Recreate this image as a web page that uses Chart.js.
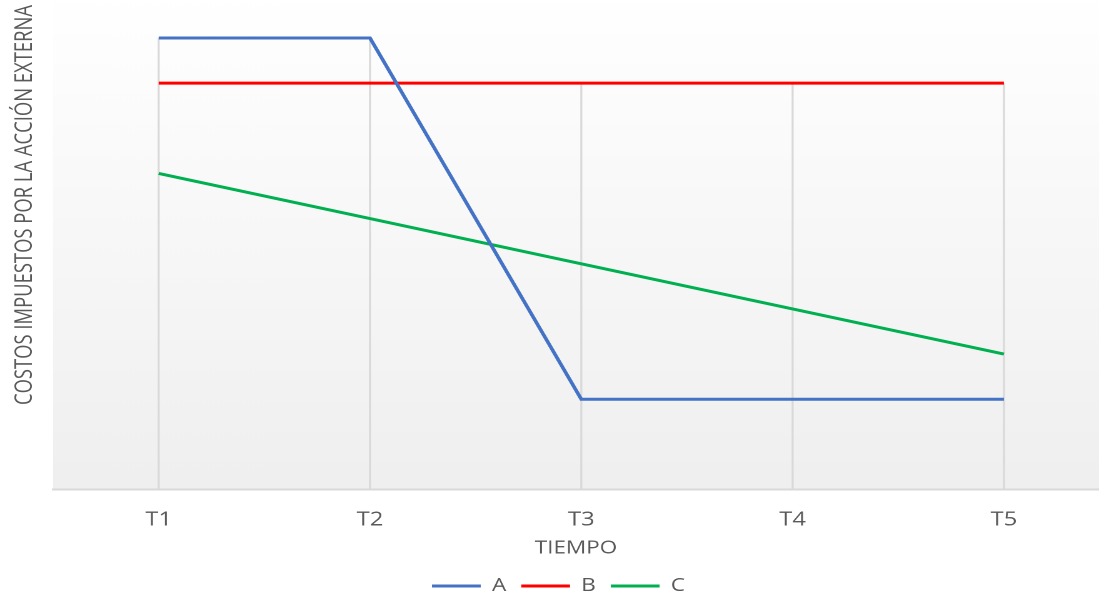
<!DOCTYPE html>
<html>
<head>
<meta charset="utf-8">
<script src="https://cdn.jsdelivr.net/npm/chart.js@4.4.1/dist/chart.umd.min.js"></script>
<style>
  html, body { margin: 0; padding: 0; background: #ffffff; overflow: hidden; }
</style>
</head>
<body>
<!-- drawn on a narrower canvas and widened by CSS, giving the broad lettering -->
<canvas id="chart" width="879" height="596" style="display:block;width:1099px;height:596px"></canvas>
<script>
// ---- data ----
const categories = ['T1', 'T2', 'T3', 'T4', 'T5'];
const seriesNames = ['A', 'B', 'C'];
const seriesA = [10, 10, 2, 2, 2];
const seriesB = [9, 9, 9, 9, 9];
const seriesC = [7, 6, 5, 4, 3];
const xAxisTitle = 'TIEMPO';
const yAxisTitleText = 'COSTOS IMPUESTOS POR LA ACCIÓN EXTERNA';

const TEXT = '#595959';
const GRID = '#d9d9d9';
const FONT = "'Open Sans', 'Noto Sans', sans-serif";

const toPoints = vals => vals.map((v, i) => ({ x: i + 1, y: v }));

// soft vertical gradient behind the plot
const plotBackground = {
  id: 'plotBackground',
  beforeDraw(chart) {
    const { ctx, chartArea: a } = chart;
    const g = ctx.createLinearGradient(0, a.top, 0, a.bottom);
    g.addColorStop(0, '#ffffff');
    g.addColorStop(1, '#efefef');
    ctx.save();
    ctx.fillStyle = g;
    ctx.fillRect(a.left, a.top, a.right - a.left, a.bottom - a.top);
    ctx.restore();
  }
};

// drop lines from the highest series value of each category to the axis
const dropLines = {
  id: 'dropLines',
  beforeDatasetsDraw(chart) {
    const { ctx, scales: { x, y }, chartArea: a } = chart;
    ctx.save();
    ctx.strokeStyle = GRID;
    ctx.lineWidth = 1.6;
    categories.forEach((c, i) => {
      const top = Math.max(...chart.data.datasets.map(d => d.data[i].y));
      const px = x.getPixelForValue(i + 1);
      ctx.beginPath();
      ctx.moveTo(px, y.getPixelForValue(top));
      ctx.lineTo(px, a.bottom);
      ctx.stroke();
    });
    ctx.restore();
  }
};

// rotated value-axis title, fitted to a fixed length
const yAxisTitle = {
  id: 'yAxisTitle',
  afterDraw(chart, args, opts) {
    const { ctx } = chart;
    ctx.save();
    ctx.font = opts.font;
    ctx.fillStyle = opts.color;
    ctx.textAlign = 'center';
    ctx.textBaseline = 'middle';
    const w = ctx.measureText(opts.text).width;
    ctx.translate(opts.x, opts.y);
    ctx.rotate(-Math.PI / 2);
    ctx.scale(Math.min(1, opts.length / w), 1);
    ctx.fillText(opts.text, 0, 0);
    ctx.restore();
  }
};

// nudges the legend row slightly left of the canvas centre
const legendShift = {
  id: 'legendShift',
  afterLayout(chart, args, opts) {
    const lg = chart.legend;
    if (lg) { lg.left += opts.dx; lg.right += opts.dx; }
  }
};

new Chart(document.getElementById('chart'), {
  type: 'line',
  data: {
    datasets: [
      { label: seriesNames[0], data: toPoints(seriesA), borderColor: '#4472C4', backgroundColor: '#4472C4', borderWidth: 3 },
      { label: seriesNames[1], data: toPoints(seriesB), borderColor: '#FF0000', backgroundColor: '#FF0000', borderWidth: 3 },
      { label: seriesNames[2], data: toPoints(seriesC), borderColor: '#00B050', backgroundColor: '#00B050', borderWidth: 3 }
    ]
  },
  plugins: [plotBackground, dropLines, yAxisTitle, legendShift],
  options: {
    responsive: false,
    animation: false,
    devicePixelRatio: 2,
    layout: { padding: { left: 42.4, right: 0, top: 0, bottom: -9 } },
    elements: {
      line: { tension: 0, borderCapStyle: 'butt' },
      point: { radius: 0, hoverRadius: 0 }
    },
    scales: {
      x: {
        type: 'linear',
        min: 0.5,
        max: 5.45,
        afterBuildTicks: scale => { scale.ticks = categories.map((c, i) => ({ value: i + 1 })); },
        grid: { display: false, drawTicks: false },
        border: { display: true, color: GRID, width: 2 },
        ticks: {
          autoSkip: false,
          maxRotation: 0,
          padding: 19,
          color: TEXT,
          font: { family: FONT, size: 19 },
          callback: v => categories[v - 1]
        },
        title: {
          display: true,
          text: xAxisTitle,
          color: TEXT,
          font: { family: FONT, size: 18 },
          padding: { top: -13, bottom: 6 }
        }
      },
      y: {
        display: false,
        min: 0,
        max: 10.84
      }
    },
    plugins: {
      legend: {
        position: 'bottom',
        labels: {
          usePointStyle: true,
          pointStyle: 'line',
          pointStyleWidth: 39,
          padding: 12,
          color: TEXT,
          font: { family: FONT, size: 18 }
        }
      },
      tooltip: { enabled: false },
      yAxisTitle: { text: yAxisTitleText, x: 20, y: 205, length: 400, color: TEXT, font: "19px 'Open Sans', 'Noto Sans', sans-serif" },
      legendShift: { dx: -14 }
    }
  }
});
</script>
</body>
</html>
